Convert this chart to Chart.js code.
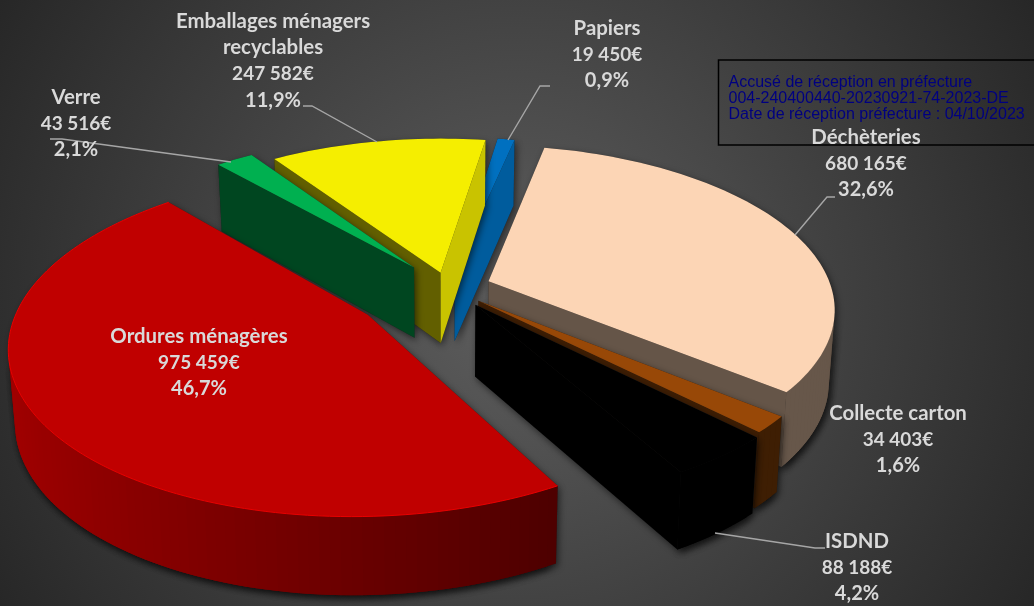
<!DOCTYPE html>
<html lang="fr">
<head>
<meta charset="utf-8">
<title>Répartition des coûts</title>
<script src="https://cdn.jsdelivr.net/npm/chart.js@4/dist/chart.umd.min.js"></script>
<style>
html,body{margin:0;padding:0;width:1034px;height:606px;overflow:hidden;background:#333}
canvas{display:block}
</style>
</head>
<body>
<canvas id="c" width="1034" height="606"></canvas>
<script>
// ---- data ----
const categories = ['Déchèteries','Collecte carton','ISDND','Ordures ménagères','Verre','Emballages ménagers recyclables','Papiers'];
const values = [680165,34403,88188,975459,43516,247582,19450];
const valueLabels = ['680 165€','34 403€','88 188€','975 459€','43 516€','247 582€','19 450€'];
const percentLabels = ['32,6%','1,6%','4,2%','46,7%','2,1%','11,9%','0,9%'];
const stampLines = ['Accusé de réception en préfecture','004-240400440-20230921-74-2023-DE','Date de réception préfecture : 04/10/2023'];

// ---- styles and layout ----
const colours = ['#FCD5B5','#984807','#000000','#C00000','#00B050','#F5EE00','#0070C0'];
const explode = [126,118,130,280,165,100,110];   // per-mille of the radius
const rimColours = [null,null,null,'#E80000',null,null,null];
const view = {cx:448,cy:288,A:343,B:160,k:0.16,D:71,shrink:0.985};
const labelCentres = [
  {x:866,y:137,name:['Déchèteries']},
  {x:898,y:413,name:['Collecte carton']},
  {x:857,y:541,name:['ISDND']},
  {x:199,y:336,name:['Ordures ménagères']},
  {x:76,y:97,name:['Verre']},
  {x:273,y:21,name:['Emballages ménagers','recyclables']},
  {x:607,y:28,name:['Papiers']}
];
const leaders = [
  [[835,197],[827,197],[795,235]],
  [[825,548],[815,548],[715,533]],
  [[50,139],[62,139],[231,162]],
  [[303,106],[312,106],[377,142]],
  [[550,86],[540,86],[508,140]]
];
const lineGap = 26.4;

function project(u,v,z){
  const w = 1 - view.k*v;
  let X = view.A*u/w, Y = view.B*v/w + view.D*z/Math.sqrt(w);
  if(z) X *= view.shrink;
  return [view.cx+X, view.cy+Y];
}
function shade(hex,f){
  const n = parseInt(hex.slice(1),16);
  const c = [n>>16,(n>>8)&255,n&255].map(x=>Math.round(Math.min(255,x*f)));
  return `rgb(${c[0]},${c[1]},${c[2]})`;
}
function poly(ctx,pts){
  ctx.beginPath();
  pts.forEach((p,i)=>i?ctx.lineTo(p[0],p[1]):ctx.moveTo(p[0],p[1]));
  ctx.closePath();
}
function area(q){
  let s=0;
  q.forEach((p,i)=>{const r=q[(i+1)%q.length];s+=p[0]*r[1]-r[0]*p[1];});
  return s;
}
function fillFace(ctx,pts,col){
  poly(ctx,pts);
  ctx.fillStyle=col;
  ctx.fill();
}

function faces(el,i){
  const col = el.options.backgroundColor;
  const e = el.options.offset/1000;
  const mid = (el.startAngle+el.endAngle)/2;
  const u0 = e*Math.cos(mid), v0 = e*Math.sin(mid);
  const n = Math.max(2,Math.ceil((el.endAngle-el.startAngle)/(Math.PI/120)));
  const rim = [];
  for(let j=0;j<=n;j++){
    const a = el.startAngle+(el.endAngle-el.startAngle)*j/n;
    rim.push([u0+Math.cos(a),v0+Math.sin(a),a]);
  }
  const top = [project(u0,v0,0)].concat(rim.map(p=>project(p[0],p[1],0)));
  const walls = [];
  const quadOf=(p,q)=>[project(p[0],p[1],0),project(q[0],q[1],0),project(q[0],q[1],1),project(p[0],p[1],1)];
  const inner = (p,q)=>{
    const quad=quadOf(p,q);
    if(area(quad)<0){
      const nu = (q[1]-p[1]);            // plane normal x of the clockwise edge
      walls.push({quad,col:shade(col,nu<0?0.4:0.82)});
    }
  };
  const apex=[u0,v0];
  inner(apex,rim[0]);
  inner(rim[n],apex);
  for(let j=0;j<n;j++){
    const p=rim[j],q=rim[j+1];
    if(area(quadOf(p,q))<0){
      const nu=Math.cos((p[2]+q[2])/2);
      const f=nu<0.5?0.55-0.3*nu:0.41;
      // overlap into the next step so that no seams show
      walls.push({quad:quadOf(p,rim[Math.min(j+2,n)]),col:shade(col,f)});
    }
  }
  return {top,walls,col,rimPts:rim.map(p=>project(p[0],p[1],0))};
}

const pie3d = {
  id:'pie3d',
  beforeDraw(chart){
    const ctx=chart.ctx;
    const g=ctx.createRadialGradient(517,303,0,517,303,610);
    g.addColorStop(0,'#5e5e5e');
    g.addColorStop(1,'#262626');
    ctx.fillStyle=g;
    ctx.fillRect(0,0,chart.width,chart.height);
  },
  beforeDatasetsDraw(chart){
    const ctx=chart.ctx;
    const meta=chart.getDatasetMeta(0);
    const order=meta.data.map((el,i)=>i).sort((a,b)=>{
      const s=el=>Math.sin((el.startAngle+el.endAngle)/2);
      return s(meta.data[a])-s(meta.data[b]);
    });
    ctx.save();
    order.forEach(i=>{
      const f=faces(meta.data[i],i);
      ctx.save();
      ctx.shadowColor='rgba(0,0,0,0.55)';ctx.shadowBlur=7;ctx.shadowOffsetX=2;ctx.shadowOffsetY=3;
      f.walls.forEach(w=>{poly(ctx,w.quad);ctx.fillStyle='#222';ctx.fill();});
      poly(ctx,f.top);ctx.fillStyle='#222';ctx.fill();
      ctx.restore();
      f.walls.forEach(w=>fillFace(ctx,w.quad,w.col));
      fillFace(ctx,f.top,f.col);
      if(rimColours[i]){
        ctx.beginPath();
        f.rimPts.forEach((p,j)=>j?ctx.lineTo(p[0],p[1]):ctx.moveTo(p[0],p[1]));
        ctx.strokeStyle=rimColours[i];ctx.lineWidth=1;ctx.stroke();
      }
    });
    ctx.restore();
    return false;
  },
  afterDraw(chart){
    const ctx=chart.ctx;
    ctx.save();
    ctx.strokeStyle='#A6A6A6';ctx.lineWidth=1.4;
    leaders.forEach(l=>{
      ctx.beginPath();
      l.forEach((p,j)=>j?ctx.lineTo(p[0],p[1]):ctx.moveTo(p[0],p[1]));
      ctx.stroke();
    });
    // stamp
    ctx.strokeStyle='#000';ctx.lineWidth=1.5;
    ctx.strokeRect(718.5,60,330,85);
    ctx.fillStyle='#000080';
    ctx.font='16px "Liberation Sans"';
    ctx.textAlign='left';ctx.textBaseline='alphabetic';
    stampLines.forEach((t,j)=>ctx.fillText(t,728.5,87+j*16));
    // data labels
    ctx.fillStyle='#D9D9D9';
    ctx.textAlign='center';ctx.textBaseline='middle';
    labelCentres.forEach((l,i)=>{
      const lines=l.name.concat([valueLabels[i],percentLabels[i]]);
      lines.forEach((t,j)=>{
        ctx.font= j<l.name.length ? 'bold 20.4px Lato' : (j===l.name.length ? 'bold 19px Lato' : 'bold 20px Lato');
        ctx.fillText(t,l.x,l.y+j*lineGap);
      });
    });
    ctx.restore();
  }
};

new Chart(document.getElementById('c'),{
  type:'pie',
  data:{labels:categories,datasets:[{data:values,backgroundColor:colours,offset:explode,borderWidth:0}]},
  options:{
    responsive:false,animation:false,rotation:12,
    layout:{padding:0},
    plugins:{legend:{display:false},tooltip:{enabled:false}}
  },
  plugins:[pie3d]
});
</script>
</body>
</html>
